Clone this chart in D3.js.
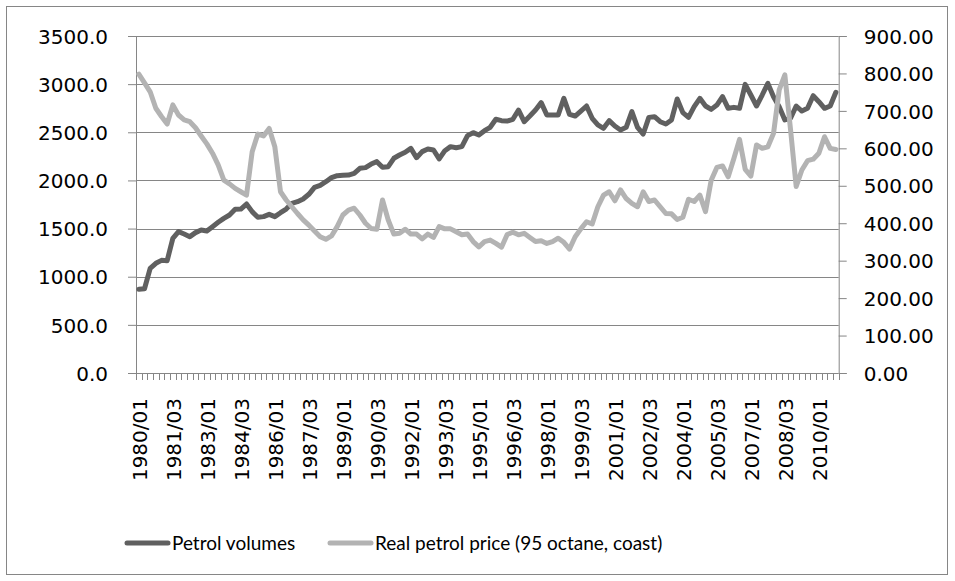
<!DOCTYPE html>
<html lang="en">
<head>
<meta charset="UTF-8">
<title>Petrol volumes and real petrol price</title>
<style>
body { margin: 0; background: #fff; }
.line { fill: none; stroke-width: 5px; stroke-linejoin: round; stroke-linecap: round; }
.axis text { font-family: "DejaVu Sans", sans-serif; font-size: 20px; fill: #000; }
.axis path, .axis line { stroke: #868686; }
.grid line { stroke: #868686; stroke-width: 1px; }
.legend text { font-family: Lato, sans-serif; font-size: 19px; fill: #000; }
</style>
</head>
<body>
<script src="https://cdn.jsdelivr.net/npm/d3@7"></script>
<script>
    // quarters 1980/01 .. 2010/04
    var quarters = [];
    for (var yr = 1980; yr <= 2010; yr++) {
        for (var q = 1; q <= 4; q++) quarters.push(yr + "/0" + q);
    }

    var volumes = [
        870, 875, 1087, 1139, 1170, 1167, 1399, 1468, 1444, 1416,
        1458, 1485, 1475, 1520, 1565, 1606, 1641, 1700, 1703, 1755,
        1676, 1617, 1624, 1648, 1624, 1665, 1703, 1762, 1779, 1807,
        1856, 1928, 1949, 1987, 2029, 2049, 2053, 2056, 2074, 2126,
        2133, 2170, 2195, 2136, 2143, 2230, 2264, 2292, 2333, 2236,
        2299, 2326, 2316, 2223, 2309, 2351, 2340, 2351, 2465, 2496,
        2472, 2517, 2552, 2635, 2621, 2617, 2635, 2731, 2610, 2669,
        2731, 2808, 2680, 2680, 2680, 2853, 2686, 2669, 2721, 2773,
        2645, 2576, 2541, 2621, 2565, 2524, 2552, 2714, 2552, 2482,
        2655, 2662, 2610, 2586, 2628, 2846, 2704, 2655, 2766, 2853,
        2773, 2738, 2783, 2870, 2749, 2759, 2749, 2998, 2887, 2773,
        2887, 3008, 2870, 2766, 2628, 2645, 2773, 2721, 2749, 2880,
        2818, 2749, 2773, 2915
    ];

    var prices = [
        798, 775, 751, 707, 685, 665, 716, 689, 676, 671,
        655, 633, 612, 587, 556, 515, 505, 493, 484, 475,
        591, 638, 633, 653, 604, 484, 462, 444, 426, 409,
        395, 379, 364, 357, 366, 391, 422, 435, 440, 422,
        400, 386, 384, 462, 409, 371, 373, 384, 371, 371,
        358, 371, 362, 391, 385, 385, 377, 369, 371, 351,
        337, 351, 355, 346, 336, 370, 376, 369, 373, 362,
        351, 353, 346, 351, 360, 349, 331, 364, 385, 404,
        398, 444, 475, 484, 460, 489, 466, 453, 444, 484,
        458, 462, 444, 426, 425, 410, 416, 464, 458, 475,
        431, 515, 549, 553, 524, 573, 624, 544, 526, 609,
        600, 604, 640, 756, 796, 650, 498, 542, 567, 571,
        587, 631, 600, 597
    ];

    var leftTicks = [0, 500, 1000, 1500, 2000, 2500, 3000, 3500];
    var rightTicks = [0, 100, 200, 300, 400, 500, 600, 700, 800, 900];
    var seriesNames = ["Petrol volumes", "Real petrol price (95 octane, coast)"];
    var seriesColors = ["#606060", "#b3b3b3"];

    var width = 955, height = 581;
    var plot = { left: 136, right: 838.7, top: 36, bottom: 373 };

    var svg = d3.select("body").append("svg")
        .attr("width", width)
        .attr("height", height);

    // chart border
    svg.append("rect")
        .attr("x", 6.5).attr("y", 6.5)
        .attr("width", 941).attr("height", 568)
        .attr("fill", "#fff")
        .attr("stroke", "#868686");

    var x = d3.scaleBand().domain(quarters).range([plot.left, plot.right]).padding(0);
    var yL = d3.scaleLinear().domain([0, 3500]).range([plot.bottom, plot.top]);
    var yR = d3.scaleLinear().domain([0, 900]).range([plot.bottom, plot.top]);
    var cx = function(i) { return x(quarters[i]) + x.bandwidth() / 2; };

    // gridlines
    svg.append("g").attr("class", "grid")
        .selectAll("line").data(leftTicks.filter(function(d) { return d > 0; }))
        .enter().append("line")
        .attr("x1", plot.left).attr("x2", plot.right)
        .attr("y1", function(d) { return Math.round(yL(d)) + 0.5; })
        .attr("y2", function(d) { return Math.round(yL(d)) + 0.5; });

    // left axis
    svg.append("g").attr("class", "axis")
        .attr("transform", "translate(" + plot.left + ",0)")
        .call(d3.axisLeft(yL).tickValues(leftTicks).tickSize(8).tickPadding(20)
            .tickFormat(d3.format(".1f")))
        .selectAll("text").attr("dy", "0.36em");

    // right axis
    svg.append("g").attr("class", "axis")
        .attr("transform", "translate(" + plot.right + ",0)")
        .call(d3.axisRight(yR).tickValues(rightTicks).tickSize(8).tickPadding(17)
            .tickFormat(d3.format(".2f")))
        .selectAll("text").attr("dy", "0.36em");

    // bottom axis: line, tick marks between categories, every 6th label
    var xAxis = svg.append("g").attr("class", "axis");
    xAxis.append("line")
        .attr("x1", plot.left).attr("x2", plot.right)
        .attr("y1", plot.bottom + 0.5).attr("y2", plot.bottom + 0.5);
    xAxis.selectAll(".xtick").data(quarters.concat(["end"]))
        .enter().append("line")
        .attr("class", "xtick")
        .attr("x1", function(d, i) { return Math.round(plot.left + i * x.bandwidth()) + 0.5; })
        .attr("x2", function(d, i) { return Math.round(plot.left + i * x.bandwidth()) + 0.5; })
        .attr("y1", plot.bottom).attr("y2", plot.bottom + 7);
    xAxis.selectAll(".xlabel").data(quarters.filter(function(d, i) { return i % 6 === 0; }))
        .enter().append("text")
        .attr("class", "xlabel")
        .attr("text-anchor", "end")
        .attr("dy", "0.43em")
        .attr("transform", function(d) {
            return "translate(" + (x(d) + x.bandwidth() / 2) + ",398) rotate(-90)";
        })
        .text(function(d) { return d; });

    var lineL = d3.line().x(function(d, i) { return cx(i); }).y(function(d) { return yL(d); });
    var lineR = d3.line().x(function(d, i) { return cx(i); }).y(function(d) { return yR(d); });

    svg.append("path").datum(volumes)
        .attr("class", "line")
        .attr("stroke", seriesColors[0])
        .attr("d", lineL);

    svg.append("path").datum(prices)
        .attr("class", "line")
        .attr("stroke", seriesColors[1])
        .attr("d", lineR);

    // legend
    var legendX = [127, 330];
    var legend = svg.append("g").attr("class", "legend");
    seriesNames.forEach(function(name, i) {
        legend.append("line")
            .attr("x1", legendX[i]).attr("x2", legendX[i] + 41)
            .attr("y1", 543).attr("y2", 543)
            .attr("stroke", seriesColors[i])
            .attr("stroke-width", 5)
            .attr("stroke-linecap", "round");
        legend.append("text")
            .attr("x", legendX[i] + 45)
            .attr("y", 550)
            .text(name);
    });
</script>
</body>
</html>
